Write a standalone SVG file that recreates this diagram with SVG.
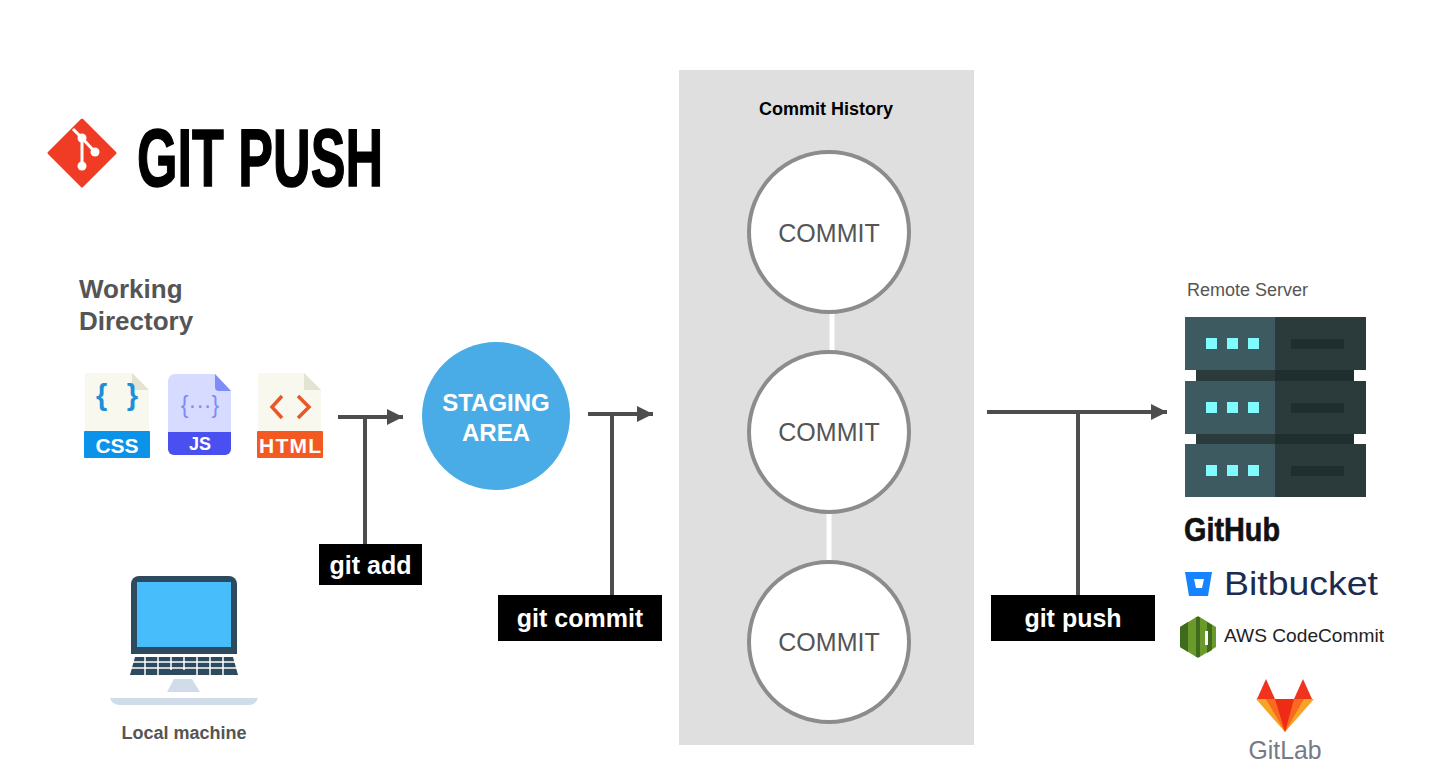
<svg xmlns="http://www.w3.org/2000/svg" width="1436" height="769" viewBox="0 0 1436 769">
<style>
text{font-family:"Liberation Sans",Arial,sans-serif}
.lbl{fill:#555;font-weight:700}
.commit{fill:#fff;stroke:#8c8c8c;stroke-width:4}
.ct{fill:#555;font-size:25px;text-anchor:middle}
.cmd{fill:#000}
.cmdt{fill:#fff;font-size:25px;font-weight:700;text-anchor:middle}
.conn{fill:none;stroke:#4d4d4d;stroke-width:4}
.dot{fill:#7ffaff}
.dk{fill:#2b3a3a}
.lt{fill:#3d5a60}
.sl{fill:#1f2f2f}
</style>
<defs>
<marker id="arr" markerUnits="userSpaceOnUse" markerWidth="16" markerHeight="16" refX="16" refY="8" orient="auto"><path d="M0,0L16,8L0,16Z" fill="#4d4d4d"/></marker>
<g id="unit"><rect x="0" y="0" width="90" height="53" class="lt"/><rect x="90" y="0" width="91" height="53" class="dk"/><rect x="21" y="21" width="11" height="11" class="dot"/><rect x="42" y="21" width="11" height="11" class="dot"/><rect x="63" y="21" width="11" height="11" class="dot"/><rect x="106" y="22" width="53" height="10" class="sl"/></g>
</defs>
<rect width="1436" height="769" fill="#fff"/>
<g id="title">
<path d="M82,120L115,153L82,186L49,153Z" fill="#f03c24" stroke="#f03c24" stroke-width="3" stroke-linejoin="round"/>
<path d="M73,129L82,138M82,138V165M82,138L95,152" stroke="#fff" stroke-width="3" fill="none"/>
<circle cx="82" cy="138" r="4.5" fill="#fff"/><circle cx="95" cy="152" r="4.5" fill="#fff"/><circle cx="82" cy="166" r="4.5" fill="#fff"/>
<text x="137" y="186" font-size="82" font-weight="700" textLength="246" lengthAdjust="spacingAndGlyphs" style="font-family:'Liberation Sans',sans-serif" stroke="#000" stroke-width="1.5">GIT PUSH</text>
</g>
<g id="working-directory">
<text class="lbl" x="79" y="298" font-size="26">Working</text>
<text class="lbl" x="79" y="330" font-size="26">Directory</text>
</g>
<g id="file-css">
<path d="M85,373H132L149,390V432H85Z" fill="#f8f8ee"/><path d="M132,373L149,390H132Z" fill="#e3e2d3"/>
<rect x="84" y="431" width="66" height="27" rx="1" fill="#0b93ea"/>
<text x="117" y="405" font-size="29" font-weight="700" fill="#1c8fd8" text-anchor="middle" textLength="42">{ }</text>
<text x="117" y="453" font-size="21" fill="#fff" text-anchor="middle" font-weight="700">CSS</text>
</g>
<g id="file-js">
<path d="M175,374H215L231,391V449a6,6 0 0 1-6,6H174a6,6 0 0 1-6-6V381a7,7 0 0 1 7-7Z" fill="#d6dbff"/><path d="M215,374L231,391H219a4,4 0 0 1-4-4Z" fill="#7e8cf5"/>
<path d="M168,432H231V449a6,6 0 0 1-6,6H174a6,6 0 0 1-6-6Z" fill="#4a50f0"/>
<text x="200" y="413" font-size="23" fill="#7e8cf5" text-anchor="middle">{···}</text>
<text x="200" y="450" font-size="18" fill="#fff" text-anchor="middle" font-weight="700">JS</text>
</g>
<g id="file-html">
<path d="M258,373H304L321,390V432H258Z" fill="#f8f8ee"/><path d="M304,373L321,390H304Z" fill="#e3e2d3"/>
<rect x="257" y="431" width="66" height="27" rx="1" fill="#f25a22"/>
<path d="M282,396L272,407L282,418M298,396L309,407L298,418" fill="none" stroke="#e8582a" stroke-width="3.5"/>
<text x="290" y="453" font-size="21" fill="#fff" text-anchor="middle" font-weight="700" textLength="62">HTML</text>
</g>
<g id="local-machine">
<path d="M131,654V584a8,8 0 0 1 8-8H229a8,8 0 0 1 8,8V654Z" fill="#2d4a5f"/>
<rect x="137" y="582" width="94" height="65" fill="#48bdfb"/>
<path d="M135,657H233L238,675H130Z" fill="#2d4a5f"/>
<path d="M130,662H238M130,668H238" stroke="#fff" stroke-width="1.5"/>
<path d="M145,656V676M158,656V676M171,656V670M184,656V670M197,656V676M210,656V676M223,656V676" stroke="#fff" stroke-width="1.5"/>
<path d="M174,679H192L200,692H167Z" fill="#d0dcea"/>
<path d="M110,698H258Q256,705 248,705H120Q112,705 110,698Z" fill="#d0dcea"/>
<text class="lbl" x="184" y="739" font-size="18" text-anchor="middle">Local machine</text>
</g>
<g id="staging-area">
<circle cx="496" cy="416" r="74" fill="#4aace6"/>
<text x="496" y="411" font-size="24" font-weight="700" fill="#fff" text-anchor="middle">STAGING</text>
<text x="496" y="441" font-size="24" font-weight="700" fill="#fff" text-anchor="middle">AREA</text>
</g>
<g id="commit-history">
<rect x="679" y="70" width="295" height="675" fill="#dfdfdf"/>
<text x="826" y="115" font-size="18" font-weight="700" fill="#000" text-anchor="middle">Commit History</text>
<path d="M832,312V352M829,512V562" stroke="#fff" stroke-width="5" fill="none"/>
</g>
<g id="commit-1"><circle class="commit" cx="829" cy="232" r="80"/><text class="ct" x="829" y="242">COMMIT</text></g>
<g id="commit-2"><circle class="commit" cx="829" cy="432" r="80"/><text class="ct" x="829" y="441">COMMIT</text></g>
<g id="commit-3"><circle class="commit" cx="829" cy="642" r="80"/><text class="ct" x="829" y="651">COMMIT</text></g>
<g id="connectors">
<path class="conn" d="M338,417H403" marker-end="url(#arr)"/>
<path class="conn" d="M365,417V544"/>
<path class="conn" d="M588,414H653" marker-end="url(#arr)"/>
<path class="conn" d="M612,414V595"/>
<path class="conn" d="M987,412H1167" marker-end="url(#arr)"/>
<path class="conn" d="M1078,412V595"/>
</g>
<g id="cmd-add"><rect class="cmd" x="319" y="544" width="103" height="41"/><text class="cmdt" x="370.500" y="574">git add</text></g>
<g id="cmd-commit"><rect class="cmd" x="498" y="595" width="164" height="46"/><text class="cmdt" x="580" y="627">git commit</text></g>
<g id="cmd-push"><rect class="cmd" x="991" y="595" width="164" height="46"/><text class="cmdt" x="1073" y="627">git push</text></g>
<g id="remote-server">
<text x="1187" y="296" font-size="18" fill="#555">Remote Server</text>
<rect x="1196" y="370" width="79" height="12" fill="#2b3a3a"/><rect x="1275" y="370" width="79" height="12" fill="#1f2f2f"/>
<rect x="1196" y="433" width="79" height="12" fill="#2b3a3a"/><rect x="1275" y="433" width="79" height="12" fill="#1f2f2f"/>
<use href="#unit" x="1185" y="317"/><use href="#unit" x="1185" y="381"/><use href="#unit" x="1185" y="444"/>
</g>
<g id="github"><text x="1184" y="541" font-size="33" font-weight="700" fill="#111" textLength="96" lengthAdjust="spacingAndGlyphs" stroke="#111" stroke-width=".6">GitHub</text></g>
<g id="bitbucket">
<path d="M1185,572H1212L1208,596H1189Z" fill="#1783ff"/><path d="M1194,579H1204L1202,588H1196Z" fill="#fff"/>
<text x="1224" y="595" font-size="34" fill="#1c2c50" textLength="154" lengthAdjust="spacingAndGlyphs">Bitbucket</text>
</g>
<g id="aws-codecommit">
<path d="M1180,627L1198,616L1216,627V647L1198,658L1180,647Z" fill="#6a9a2b"/>
<path d="M1180,627L1188,622V652L1180,647ZM1196,617H1200V657H1196ZM1207,622L1212,625V650L1207,653Z" fill="#3f6b1c"/>
<rect x="1205" y="631" width="3" height="14" fill="#fff"/>
<text x="1224" y="642" font-size="19" fill="#222" textLength="160" lengthAdjust="spacingAndGlyphs">AWS CodeCommit</text>
</g>
<g id="gitlab">
<path d="M1266,679L1275,699H1257Z" fill="#f0331c"/><path d="M1303,679L1312,699H1294Z" fill="#f0331c"/>
<path d="M1256,699H1314L1285,732Z" fill="#f9a326"/>
<path d="M1266,699H1304L1285,732Z" fill="#f76a1f"/>
<path d="M1275,699H1294L1285,732Z" fill="#ee2b14"/>
<text x="1285" y="759" font-size="26" fill="#777a86" text-anchor="middle" textLength="73" lengthAdjust="spacingAndGlyphs">GitLab</text>
</g>
</svg>
